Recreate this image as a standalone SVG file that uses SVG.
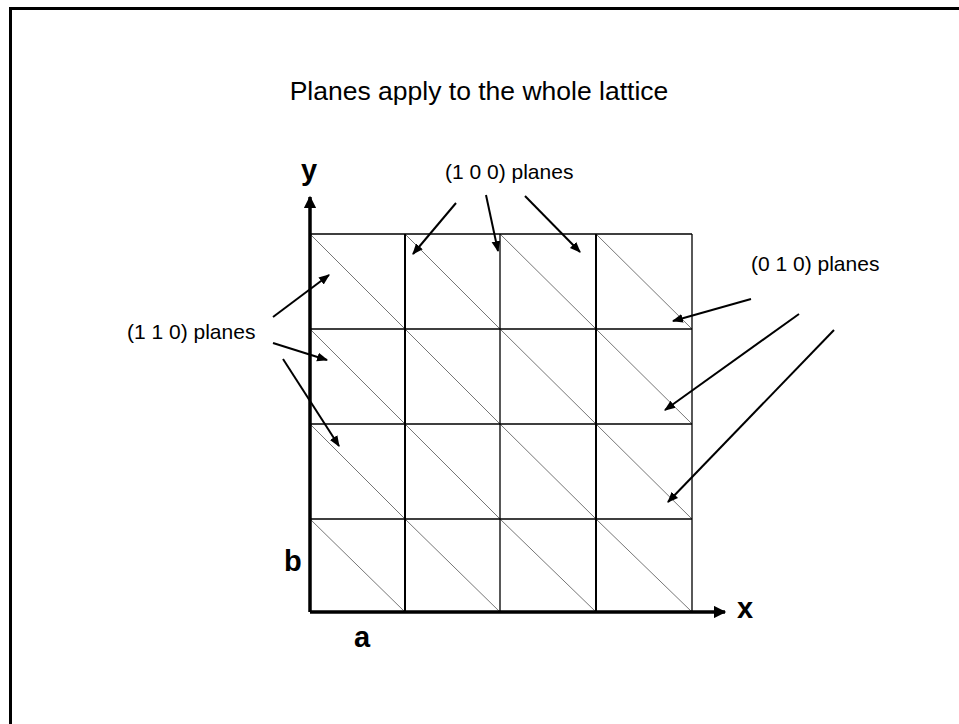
<svg xmlns="http://www.w3.org/2000/svg" width="959" height="724" viewBox="0 0 959 724">
<style>
.frame{stroke:#000;stroke-width:3;fill:none}
.grid{stroke:#000;stroke-width:1.3;fill:none}
.gridb{stroke:#000;stroke-width:2;fill:none}
.diag{stroke:#666;stroke-width:0.9;fill:none}
.axis{stroke:#000;stroke-width:3.5;fill:none}
.arr{stroke:#000;stroke-width:2;fill:none}
.t{font-family:"Liberation Sans",Arial,sans-serif;fill:#000}
.lbl{font-size:21px}
.ax{font-size:29px;font-weight:bold}
</style>
<defs>
<marker id="ah" viewBox="0 0 10 10" refX="9" refY="5" markerWidth="5.5" markerHeight="5.5" markerUnits="strokeWidth" orient="auto">
<path d="M0,1 L10,5 L0,9 Z" fill="#000"/>
</marker>
<marker id="axh" viewBox="0 0 10 10" refX="9" refY="5" markerWidth="4" markerHeight="3.5" markerUnits="strokeWidth" orient="auto">
<path d="M0,0 L10,5 L0,10 Z" fill="#000"/>
</marker>
</defs>
<rect width="959" height="724" fill="#fff"/>
<g id="frame">
<path class="frame" d="M10.5,724 V8.5 H959"/>
</g>
<text id="title" class="t" x="479" y="100" font-size="26.5" text-anchor="middle">Planes apply to the whole lattice</text>
<g id="lattice">
<g class="diag">
<path d="M310,234 L405,329 M405,234 L500,329 M500,234 L596,329 M596,234 L692,329"/>
<path d="M310,329 L405,424 M405,329 L500,424 M500,329 L596,424 M596,329 L692,424"/>
<path d="M310,424 L405,519 M405,424 L500,519 M500,424 L596,519 M596,424 L692,519"/>
<path d="M310,519 L405,612 M405,519 L500,612 M500,519 L596,612 M596,519 L692,612"/>
</g>
<path class="grid" d="M310,234 H692 M310,329 H692 M310,424 H692 M310,519 H692 M500,234 V612 M692,234 V612"/>
<path class="gridb" d="M405,234 V612 M596,234 V612"/>
</g>
<g id="axes">
<path class="axis" d="M310,612 V197" marker-end="url(#axh)"/>
<path class="axis" d="M310,612 H725" marker-end="url(#axh)"/>
<text class="t ax" x="301" y="180">y</text>
<text class="t ax" x="737" y="618">x</text>
<text class="t ax" x="284" y="571">b</text>
<text class="t ax" x="354" y="647">a</text>
</g>
<g id="label-100">
<text class="t lbl" x="445" y="179">(1 0 0) planes</text>
</g>
<g id="label-010">
<text class="t lbl" x="751" y="271">(0 1 0) planes</text>
</g>
<g id="label-110">
<text class="t lbl" x="127" y="339">(1 1 0) planes</text>
</g>
<g id="connectors">
<path class="arr" d="M456,203 L413,254" marker-end="url(#ah)"/>
<path class="arr" d="M486,195 L498,251" marker-end="url(#ah)"/>
<path class="arr" d="M525,196 L580,252" marker-end="url(#ah)"/>
<path class="arr" d="M751,299 L673,321" marker-end="url(#ah)"/>
<path class="arr" d="M799,314 L665,410" marker-end="url(#ah)"/>
<path class="arr" d="M834,330 L668,502" marker-end="url(#ah)"/>
<path class="arr" d="M273,317 L329,275" marker-end="url(#ah)"/>
<path class="arr" d="M273,343 L327,360" marker-end="url(#ah)"/>
<path class="arr" d="M283,359 L339,446" marker-end="url(#ah)"/>
</g>
</svg>
